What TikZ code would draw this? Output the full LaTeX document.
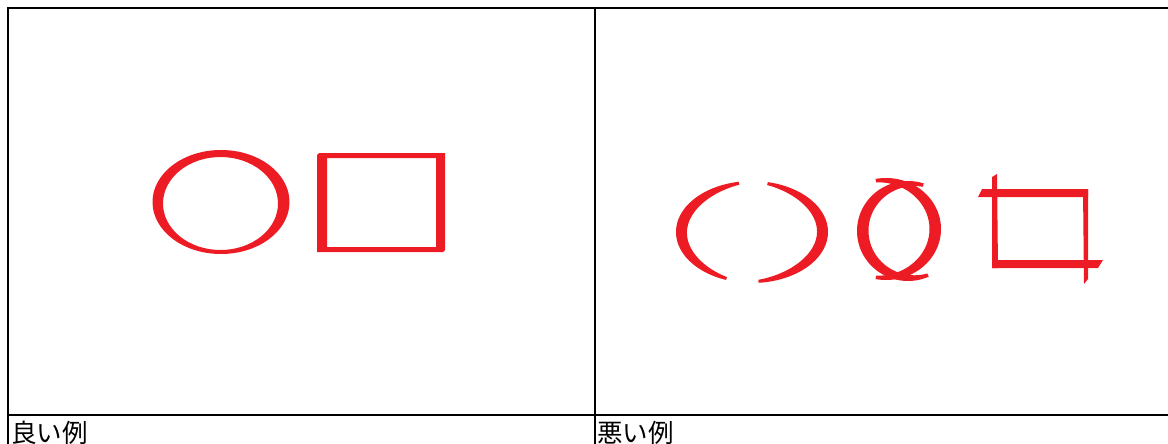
\documentclass[tikz,border=0pt]{standalone}
\usepackage{fontspec}
\newfontfamily\jpfont{Noto Sans CJK JP}
\definecolor{markred}{RGB}{237,28,36}
\tikzset{
  rule/.style={line width=2pt, black},
  ink/.style={fill=markred, draw=none},
  caption/.style={anchor=base west, inner sep=0pt, font=\jpfont\fontsize{25.5}{25.5}\selectfont}
}
\begin{document}
\begin{tikzpicture}[x=1pt, y=-1pt]
\useasboundingbox (0,0) rectangle (1168,444);
\clip (0,0) rectangle (1168,444);
% table rules
\draw[rule] (7,8.5) -- (1168,8.5);
\draw[rule] (8,8.5) -- (8,444);
\draw[rule] (594.5,8.5) -- (594.5,444);
\draw[rule] (8,414.5) -- (1168,414.5);
% captions
\node[caption] (good) at (11,442) {良い例};
\node[caption] (bad) at (597,442) {悪い例};
% good: ellipse
\fill[ink, even odd rule] (221,202) ellipse [x radius=68.5, y radius=52]
   (220.5,203.5) ellipse [x radius=57.5, y radius=46.5];
% good: rectangle
\fill[ink, even odd rule] (319,153) -- (445,153) -- (445,250) -- (443,252) -- (317,252) -- (317,155) -- cycle
   (327,158) -- (436,158) -- (436,247) -- (327,247) -- cycle;
% bad: left paren
\fill[ink] plot[domain=100:250, samples=60, variable=\t] ({752+76*cos(\t)}, {232-51*sin(\t)})
  -- plot[domain=250:100, samples=60, variable=\t] ({752+(76-(3+8*sin((\t-100)*1.2)))*cos(\t)}, {232-(51-(3+8*sin((\t-100)*1.2)))*sin(\t)}) -- cycle;
% bad: right paren
\fill[ink] plot[domain=-85:78, samples=60, variable=\t] ({752+76*cos(\t)}, {232-51*sin(\t)})
  -- plot[domain=78:-85, samples=60, variable=\t] ({752+(76-(3+8*sin((\t+85)*1.10429)))*cos(\t)}, {232-(51-(3+8*sin((\t+85)*1.10429)))*sin(\t)}) -- cycle;
% bad: crossed eye, left arc
\fill[ink] plot[domain=72:294, samples=80, variable=\t] ({908+51*cos(\t)}, {231-50*sin(\t)})
  -- plot[domain=294:72, samples=80, variable=\t] ({908+(51-(3.5+8*sin((\t-72)*0.81081)))*cos(\t)}, {231-(50-(3.5+8*sin((\t-72)*0.81081)))*sin(\t)}) -- cycle;
% bad: crossed eye, right arc
\fill[ink] plot[domain=-101:101, samples=80, variable=\t] ({886+55*cos(\t)}, {229-51*sin(\t)})
  -- plot[domain=101:-101, samples=80, variable=\t] ({886+(55-(3.5+8*sin((\t+101)*0.89109)))*cos(\t)}, {229-(51-(3.5+8*sin((\t+101)*0.89109)))*sin(\t)}) -- cycle;
% bad: broken rectangle
\fill[ink] (978,197) -- (982,189) -- (1088,189) -- (1088,197) -- cycle;
\fill[ink] (992,177) -- (997,174) -- (998,268) -- (992,268) -- cycle;
\fill[ink] (992,260) -- (1103,260) -- (1098,268) -- (992,268) -- cycle;
\fill[ink] (1083,189) -- (1088,189) -- (1088,279) -- (1084,284) -- cycle;
\end{tikzpicture}
\end{document}
